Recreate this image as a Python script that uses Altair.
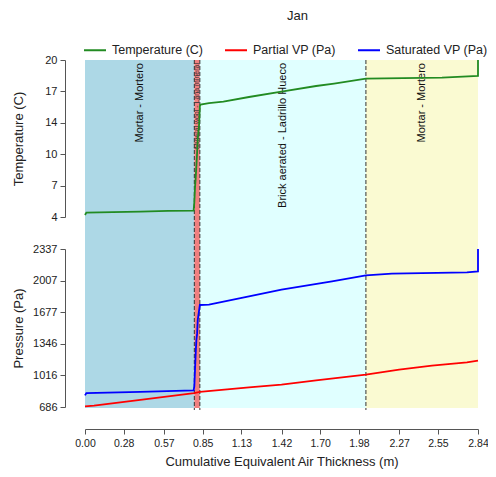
import altair as alt
import pandas as pd

# ---- data ----
temp_x = [0.00, 0.01, 0.20, 0.40, 0.60, 0.785, 0.79, 0.795, 0.80, 0.81, 0.815, 0.825, 0.83, 0.835,
          0.896, 1.00, 1.185, 1.42, 1.67, 1.80, 2.03, 2.30, 2.58, 2.84, 2.84]
temp_v = [4.2, 4.45, 4.5, 4.55, 4.62, 4.65, 5.5, 7.0, 8.0, 10.5, 12.0, 13.5, 15.3, 15.45,
          15.6, 15.75, 16.23, 16.78, 17.35, 17.6, 18.1, 18.15, 18.2, 18.37, 20.0]

sat_x = [0.00, 0.01, 0.40, 0.785, 0.79, 0.795, 0.80, 0.805, 0.81, 0.815, 0.825, 0.83,
         0.896, 1.185, 1.42, 1.785, 2.03, 2.218, 2.76, 2.84, 2.84]
sat_v = [807, 832, 845, 860, 900, 1076, 1250, 1389, 1450, 1600, 1700, 1752,
         1755, 1842, 1912, 1999, 2061, 2079, 2093, 2103, 2337]

part_x = [0.00, 0.065, 0.40, 0.788, 0.83, 1.185, 1.42, 1.67, 2.03, 2.27, 2.507, 2.76, 2.84]
part_v = [692, 700, 760, 832, 843, 891, 919, 964, 1024, 1076, 1118, 1152, 1170]

region_start = [0.00, 0.79, 0.83, 2.03]
region_end = [0.79, 0.83, 2.03, 2.84]
region_names = ["Mortar - Mortero", "Mineral wool - Lana mineral",
                "Brick aerated - Ladrillo Hueco", "Mortar - Mortero"]
region_colors = ["#ADD8E6", "#F08080", "#E0FFFF", "#FAFAD2"]
boundaries = [0.79, 0.83, 2.03]

series_names = ["Temperature (C)", "Partial VP (Pa)", "Saturated VP (Pa)"]
series_colors = ["#228B22", "#FF0000", "#0000FF"]

x_ticks = [0.00, 0.28, 0.57, 0.85, 1.13, 1.42, 1.70, 1.98, 2.27, 2.55, 2.84]
temp_ticks = [4, 7.2, 10.4, 13.6, 16.8, 20]
pres_ticks = [686, 1016.2, 1346.4, 1676.6, 2006.8, 2337]

# ---- tables ----
temp_df = pd.DataFrame({"x": temp_x, "v": temp_v, "series": series_names[0], "o": range(len(temp_x))})
pres_df = pd.concat([
    pd.DataFrame({"x": part_x, "v": part_v, "series": series_names[1], "o": range(len(part_x))}),
    pd.DataFrame({"x": sat_x, "v": sat_v, "series": series_names[2], "o": range(len(sat_x))}),
])
reg_df = pd.DataFrame({"start": region_start, "end": region_end,
                       "name": region_names, "rid": [f"r{i}" for i in range(len(region_start))]})
bnd_df = pd.DataFrame({"b": boundaries})

W, H = 393, 348

xscale = alt.Scale(domain=[0, 2.84], nice=False, zero=False)
xaxis = alt.Axis(values=x_ticks, tickCount=len(x_ticks) + 2, format=".2f", offset=21,
                 tickSize=5, labelPadding=4, labelOverlap=False, labelFlush=False,
                 labelFontSize=10.5,
                 title="Cumulative Equivalent Air Thickness (m)", titlePadding=7)

color = alt.Color("series:N", scale=alt.Scale(domain=series_names, range=series_colors),
                  legend=alt.Legend(title=None, orient="none", direction="horizontal",
                                    legendX=-2, legendY=-22, symbolType="stroke",
                                    symbolSize=484, symbolStrokeWidth=2, labelFontSize=12.5,
                                    labelOffset=5, columnPadding=18, labelColor="#222"))

rects = alt.Chart(reg_df).mark_rect().encode(
    x=alt.X("start:Q", scale=xscale, axis=xaxis),
    x2="end:Q",
    y=alt.value(0), y2=alt.value(H),
    fill=alt.Fill("rid:N", scale=alt.Scale(domain=reg_df["rid"].tolist(), range=region_colors),
                  legend=None),
)

rules = alt.Chart(bnd_df).mark_rule(color="#333", strokeDash=[4, 2], strokeWidth=1).encode(
    x=alt.X("b:Q", scale=xscale), y=alt.value(0), y2=alt.value(H + 2)
)

labels_big = alt.Chart(reg_df).transform_calculate(
    mid="(datum.start + datum.end) / 2", w="datum.end - datum.start"
).transform_filter("datum.w > 0.1").mark_text(
    angle=270, align="right", baseline="middle", fontSize=11, color="#111"
).encode(x=alt.X("mid:Q", scale=xscale), y=alt.value(3), text="name:N")

labels_small = alt.Chart(reg_df).transform_calculate(
    mid="(datum.start + datum.end) / 2", w="datum.end - datum.start"
).transform_filter("datum.w <= 0.1").mark_text(
    angle=270, align="right", baseline="middle", fontSize=7, color="#333"
).encode(x=alt.X("mid:Q", scale=xscale), y=alt.value(3), text="name:N")

temp_line = alt.Chart(temp_df).mark_line(strokeWidth=1.8).encode(
    x=alt.X("x:Q", scale=xscale),
    y=alt.Y("v:Q", scale=alt.Scale(domain=[4, 20], range=[157, 0], nice=False, zero=False),
            axis=alt.Axis(orient="left", values=temp_ticks, tickCount=8, format=".0f", offset=20,
                          tickSize=5, labelPadding=3, title="Temperature (C)", titleX=-40)),
    color=color,
    order="o:Q",
)

pres_line = alt.Chart(pres_df).mark_line(strokeWidth=1.8).encode(
    x=alt.X("x:Q", scale=xscale),
    y=alt.Y("v:Q", scale=alt.Scale(domain=[686, 2337], range=[347, 189], nice=False, zero=False),
            axis=alt.Axis(orient="left", values=pres_ticks, tickCount=8, format=".0f", offset=20,
                          tickSize=5, labelPadding=3, title="Pressure (Pa)", titleX=-40)),
    color=color,
    detail="series:N",
    order="o:Q",
)

chart = alt.layer(rects, rules, labels_big, labels_small, temp_line, pres_line).resolve_scale(
    y="independent"
).properties(
    width=W, height=H,
    autosize=alt.AutoSizeParams(type="none"),
    padding={"left": 77, "top": 52, "right": 10, "bottom": 68},
    title=alt.TitleParams("Jan", fontSize=13, fontWeight="normal", anchor="middle",
                          frame="group", dx=16, offset=15, color="#222"),
).configure(
    font="Liberation Sans",
).configure_view(stroke=None).configure_axis(
    grid=False, domainColor="#555", tickColor="#555", labelColor="#222", titleColor="#222",
    labelFontSize=11, titleFontSize=13, titleFontWeight="normal",
)

chart.save("out.html", embed_options={"renderer": "svg", "actions": False})
